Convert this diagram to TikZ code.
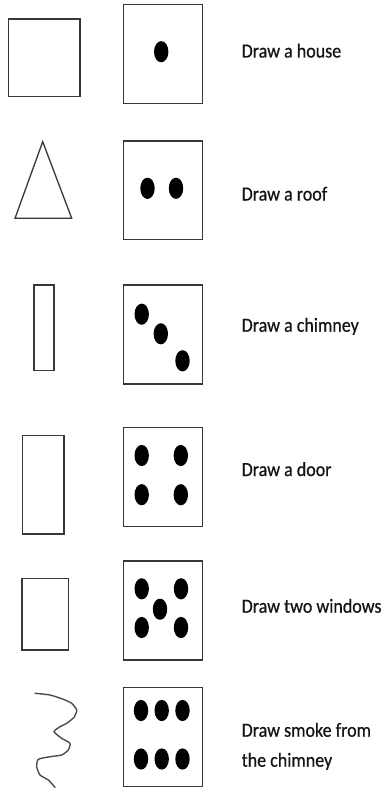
\documentclass[tikz,border=0pt]{standalone}
\usepackage{fontspec}
\setmainfont{Carlito}[FakeStretch=0.9,FakeBold=0.6]
\begin{document}
\begin{tikzpicture}[x=1pt,y=-1pt,
  outline/.style={draw=black!78,line width=1.3pt},
  pip/.style={fill=black},
  label/.style={anchor=base west,inner sep=0pt,font=\fontsize{20}{24}\selectfont,text=black!92},
  smoke/.style={draw=black!70,line width=1.4pt,line join=round,line cap=round}]
\useasboundingbox (0,0) rectangle (385,789);
\fill[white] (0,0) rectangle (385,789);
% row 1
\draw[outline] (8.3,19) rectangle (80,96.7);
\draw[outline] (123.5,4.3) rectangle (202.3,103.3);
\fill[pip] (161.2,51.7) ellipse [x radius=7.2, y radius=10.6];
\node[label] (t1) at (241.5,57.5) {Draw a house};
% row 2
\draw[outline] (42.7,141.7) -- (71.7,218.3) -- (15,218.3) -- cycle;
\draw[outline] (123.5,141) rectangle (202.3,239.3);
\fill[pip] (147.5,188.3) ellipse [x radius=7.2, y radius=10.6];
\fill[pip] (176,188.3) ellipse [x radius=7.2, y radius=10.6];
\node[label] (t2) at (241.5,200.5) {Draw a roof};
% row 3
\draw[outline] (34,285) rectangle (54,370.7);
\draw[outline] (123.5,285) rectangle (202.3,384);
\fill[pip] (141.7,314.2) ellipse [x radius=7.2, y radius=10.6];
\fill[pip] (160.8,333.8) ellipse [x radius=7.2, y radius=10.6];
\fill[pip] (182.5,360.8) ellipse [x radius=7.2, y radius=10.6];
\node[label] (t3) at (241.5,331.7) {Draw a chimney};
% row 4
\draw[outline] (22.7,435.7) rectangle (64,534);
\draw[outline] (123.5,427.7) rectangle (202.3,526.7);
\fill[pip] (141.7,455.5) ellipse [x radius=7.2, y radius=10.6];
\fill[pip] (180.8,455.5) ellipse [x radius=7.2, y radius=10.6];
\fill[pip] (141.7,494.7) ellipse [x radius=7.2, y radius=10.6];
\fill[pip] (180.8,494.7) ellipse [x radius=7.2, y radius=10.6];
\node[label] (t4) at (241.5,476) {Draw a door};
% row 5
\draw[outline] (22,578.3) rectangle (68.7,650);
\draw[outline] (123.5,561) rectangle (202.3,660);
\fill[pip] (141.7,588.8) ellipse [x radius=7.2, y radius=10.6];
\fill[pip] (181,588.8) ellipse [x radius=7.2, y radius=10.6];
\fill[pip] (160,609.2) ellipse [x radius=7.2, y radius=10.6];
\fill[pip] (141.7,627.5) ellipse [x radius=7.2, y radius=10.6];
\fill[pip] (181,627.5) ellipse [x radius=7.2, y radius=10.6];
\node[label] (t5) at (241.5,612.7) {Draw two windows};
% row 6
\draw[smoke] plot[smooth,tension=0.35] coordinates {(35,693.3) (50,695) (63.3,699.3) (71.7,703.3) (76.7,710) (74,717.3) (66.7,723.3) (60,726.7) (54,731.7) (61.7,738.3) (70,743.3) (68.3,750) (61.7,755) (50,756.7) (38.3,759.3) (36.7,766.7) (40,775) (48.3,780) (55,787.3)};
\draw[outline] (123.5,687.7) rectangle (202.3,786.7);
\fill[pip] (141,710.5) ellipse [x radius=7.2, y radius=10.6];
\fill[pip] (161.7,710.5) ellipse [x radius=7.2, y radius=10.6];
\fill[pip] (182.5,710.5) ellipse [x radius=7.2, y radius=10.6];
\fill[pip] (141,759) ellipse [x radius=7.2, y radius=10.6];
\fill[pip] (161.7,759) ellipse [x radius=7.2, y radius=10.6];
\fill[pip] (182.5,759) ellipse [x radius=7.2, y radius=10.6];
\node[label] (t6a) at (241.5,736.7) {Draw smoke from};
\node[label] (t6b) at (241.5,766.7) {the chimney};
\end{tikzpicture}
\end{document}
